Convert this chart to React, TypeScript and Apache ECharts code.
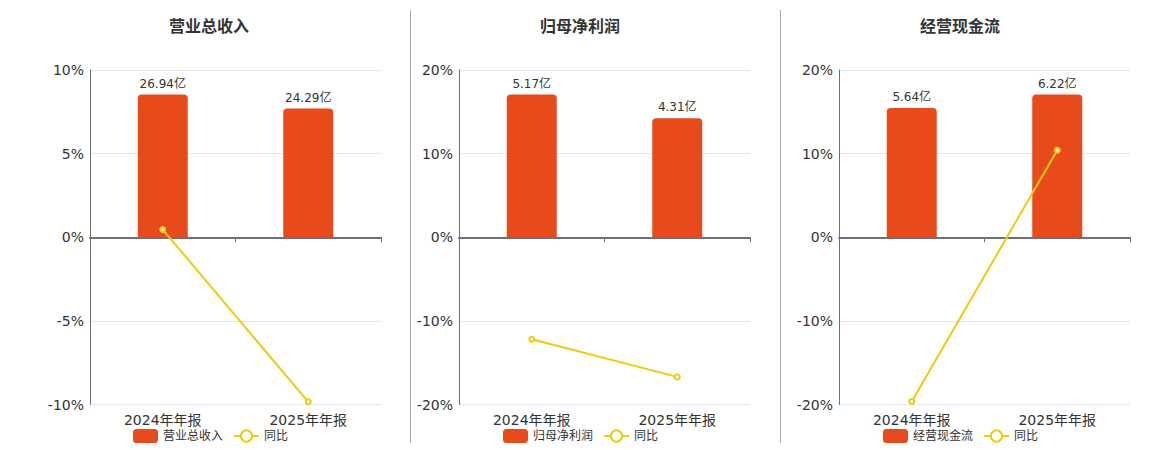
import React, { useEffect, useRef } from "react";
import * as echarts from "echarts";

const categories = ["2024年年报", "2025年年报"];
const titles = ["营业总收入", "归母净利润", "经营现金流"];
const revenueValues = [26.94, 24.29];
const revenueYoY = [0.46, -9.84];
const profitValues = [5.17, 4.31];
const profitYoY = [-12.2, -16.7];
const cashValues = [5.64, 6.22];
const cashYoY = [-19.65, 10.4];
const pctRanges = [10, 20, 20];
const pctIntervals = [5, 10, 10];

const RED = "#E84B1B";
const YELLOW = "#F2C811";
const TEXT = "#333";

export default function App() {
  const ref = useRef<HTMLDivElement>(null);
  useEffect(() => {
    document.body.style.margin = "0";
    const chart = echarts.init(ref.current!, null, { renderer: "svg" });
    const barSets = [revenueValues, profitValues, cashValues];
    const yoySets = [revenueYoY, profitYoY, cashYoY];
    const gridLefts = [90, 459, 839];
    const titleCenters = [204, 575, 955];
    const legendLefts = [128, 498, 878];
    const grids: any[] = [];
    const xAxes: any[] = [];
    const yAxes: any[] = [];
    const series: any[] = [];
    const titleArr: any[] = [];
    const legends: any[] = [];
    for (let i = 0; i < 3; i++) {
      grids.push({ left: gridLefts[i], width: 291, top: 70, height: 334.5 });
      xAxes.push({
        type: "category",
        gridIndex: i,
        data: categories,
        position: "bottom",
        axisLine: { show: true, onZero: true, lineStyle: { color: "#6E7079", width: 2 } },
        axisTick: { show: true, length: 5, lineStyle: { color: "#6E7079" } },
        axisLabel: { show: false },
      });
      xAxes.push({
        type: "category",
        gridIndex: i,
        data: categories,
        position: "bottom",
        axisLine: { show: false, onZero: false },
        axisTick: { show: false },
        axisLabel: { show: true, color: TEXT, fontSize: 14, margin: 8 },
      });
      const r = pctRanges[i];
      yAxes.push({
        type: "value",
        gridIndex: i,
        min: -r,
        max: r,
        interval: pctIntervals[i],
        axisLine: { show: true, lineStyle: { color: "#6E7079" } },
        axisTick: { show: false },
        axisLabel: { color: TEXT, fontSize: 14, margin: 6, formatter: "{value}%" },
        splitLine: { lineStyle: { color: "#E0E6F1" } },
      });
      const m = Math.max(...barSets[i]) / 0.853;
      yAxes.push({
        type: "value",
        gridIndex: i,
        min: -m,
        max: m,
        show: false,
        splitLine: { show: false },
      });
      series.push({
        type: "bar",
        name: titles[i],
        xAxisIndex: 2 * i,
        yAxisIndex: 2 * i + 1,
        data: barSets[i],
        barWidth: 50,
        itemStyle: { color: RED, borderRadius: [4, 4, 0, 0] },
        label: {
          show: true,
          position: "top",
          distance: 5,
          color: TEXT,
          fontSize: 12,
          formatter: "{c}亿",
        },
      });
      series.push({
        type: "line",
        name: "同比",
        xAxisIndex: 2 * i,
        yAxisIndex: 2 * i,
        data: yoySets[i],
        symbol: "emptyCircle",
        symbolSize: 5,
        itemStyle: { color: YELLOW },
        lineStyle: { color: YELLOW, width: 2 },
      });
      titleArr.push({
        text: titles[i],
        left: titleCenters[i],
        textAlign: "center",
        top: 13,
        textStyle: { color: TEXT, fontSize: 16, fontWeight: "bold" },
      });
      legends.push({
        data: [{ name: titles[i], icon: "roundRect" }, { name: "同比" }],
        left: legendLefts[i],
        top: 424,
        itemWidth: 25,
        itemHeight: 14,
        itemGap: 10,
        textStyle: { color: TEXT, fontSize: 12 },
      });
    }
    chart.setOption({
      animation: false,
      textStyle: { fontFamily: "DejaVu Sans, Noto Sans CJK SC, sans-serif" },
      title: titleArr,
      legend: legends,
      grid: grids,
      xAxis: xAxes,
      yAxis: yAxes,
      series,
      graphic: [
        { type: "line", shape: { x1: 410.5, y1: 10, x2: 410.5, y2: 443 }, style: { stroke: "#AAAAAA", lineWidth: 1 } },
        { type: "line", shape: { x1: 780.5, y1: 10, x2: 780.5, y2: 443 }, style: { stroke: "#AAAAAA", lineWidth: 1 } },
      ],
    });
    return () => chart.dispose();
  }, []);
  return <div ref={ref} style={{ width: 1160, height: 450 }} />;
}
